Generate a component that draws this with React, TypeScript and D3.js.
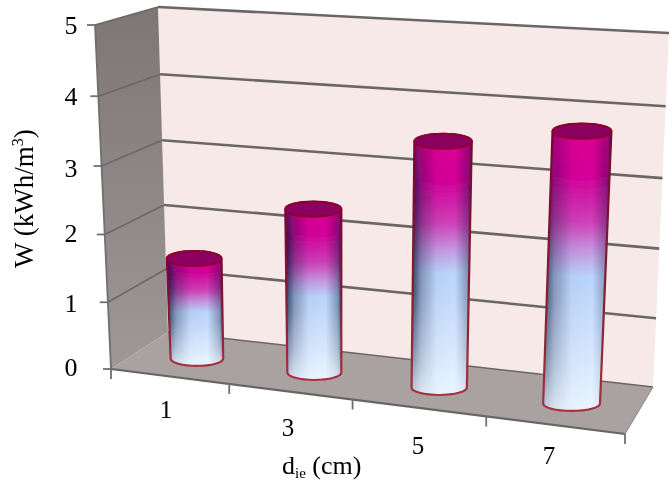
import React from 'react';
import * as d3 from 'd3';

const categories = ['1', '3', '5', '7'];
const values = [1.5, 2.4, 3.52, 3.8];
const yTicks = [0, 1, 2, 3, 4, 5];
const yFractions = [0, 0.194, 0.391, 0.59, 0.793, 1];
const xEdges = [0, 0.23, 0.47, 0.73, 1];
const xLabelPos = [[166, 418], [288, 436], [418, 454], [549, 464]];
const yLabelBase = [376, 312, 242, 177, 105, 34];

const frac = d3.scaleLinear().domain(yTicks).range(yFractions);
const uAt = d3.scaleLinear().domain(xEdges.map((_, i) => i)).range(xEdges);
const rxBase = d3.scaleLinear().domain([0, 1]).range([26, 28.8]);

const corners = {
  flb: [111, 369], flt: [95, 25],
  blb: [168, 332], blt: [158, 7],
  brb: [653, 387], brt: [669, 33],
  frb: [625, 434], frt: [645, 59],
};
const mix = (a: number[], b: number[], t: number) => [a[0] + (b[0] - a[0]) * t, a[1] + (b[1] - a[1]) * t];
function project(u: number, d: number, v: number) {
  const f = frac(v);
  const bot = mix(mix(corners.flb, corners.frb, u), mix(corners.blb, corners.brb, u), d);
  const top = mix(mix(corners.flt, corners.frt, u), mix(corners.blt, corners.brt, u), d);
  return mix(bot, top, f);
}
const poly = (pts: number[][]) => 'M' + pts.map(p => p.join(',')).join('L') + 'Z';

function Cylinder({ i, v }: { i: number; v: number }) {
  const u = uAt(i + 0.5);
  const b0 = project(u, 0.5, 0);
  const b = [b0[0], b0[1] + 1];
  const t = project(u, 0.5, v);
  const rb = rxBase(u);
  const rt = rb + 1;
  const ry = 7.5;
  const body = `M${t[0] - rt},${t[1]} L${b[0] - rb},${b[1]} A${rb},${ry} 0 0 0 ${b[0] + rb},${b[1]} L${t[0] + rt},${t[1]} A${rt},${ry} 0 0 0 ${t[0] - rt},${t[1]}Z`;
  const y0 = t[1] - ry;
  const y1 = b[1] + ry;
  return (
    <g>
      <defs>
        <linearGradient id={`fade${i}`} gradientUnits="userSpaceOnUse" x1={0} x2={0} y1={y0} y2={y1}>
          <stop offset="0" stopColor="#aaa" />
          <stop offset="0.25" stopColor="#fff" />
          <stop offset="0.6" stopColor="#eee" />
          <stop offset="0.85" stopColor="#888" />
          <stop offset="1" stopColor="#333" />
        </linearGradient>
        <mask id={`mask${i}`} maskUnits="userSpaceOnUse" x={0} y={0} width={672} height={487}>
          <rect x={0} y={y0} width={672} height={y1 - y0} fill={`url(#fade${i})`} />
        </mask>
      </defs>
      <path d={body} fill="url(#cylV)" />
      <path d={body} fill="url(#cylH)" mask={`url(#mask${i})`} />
      <path d={body} fill="none" stroke="url(#cylStroke)" strokeWidth={2.2} />
      <ellipse cx={t[0]} cy={t[1]} rx={rt} ry={ry} fill="#8c0060" stroke="#8a0035" strokeWidth={2} />
    </g>
  );
}

export default function App() {
  const gridBack = yTicks.map(v => [project(0, 1, v), project(1, 1, v)]);
  const gridLeft = yTicks.map(v => [project(0, 0, v), project(0, 1, v)]);
  return (
    <svg width={672} height={487} style={{ position: 'absolute', left: 0, top: 0 }}>
      <defs>
        <linearGradient id="wallL" x1="0" y1="0" x2="0" y2="1">
          <stop offset="0" stopColor="#7e7575" />
          <stop offset="1" stopColor="#a09898" />
        </linearGradient>
        <linearGradient id="cylV" x1="0" y1="0" x2="0" y2="1">
          <stop offset="0" stopColor="#e0008c" />
          <stop offset="0.18" stopColor="#d4009a" />
          <stop offset="0.34" stopColor="#d040b8" />
          <stop offset="0.44" stopColor="#c894e0" />
          <stop offset="0.53" stopColor="#bad4fb" />
          <stop offset="1" stopColor="#eaf5ff" />
        </linearGradient>
        <linearGradient id="cylH" x1="0" y1="0" x2="1" y2="0">
          <stop offset="0" stopColor="#0c1638" stopOpacity="0.85" />
          <stop offset="0.16" stopColor="#0c1638" stopOpacity="0.35" />
          <stop offset="0.42" stopColor="#0c1638" stopOpacity="0.03" />
          <stop offset="0.72" stopColor="#0c1638" stopOpacity="0" />
          <stop offset="0.93" stopColor="#0c1638" stopOpacity="0.35" />
          <stop offset="1" stopColor="#0c1638" stopOpacity="0.75" />
        </linearGradient>
        <linearGradient id="cylStroke" x1="0" y1="0" x2="0" y2="1">
          <stop offset="0" stopColor="#7a0030" />
          <stop offset="0.6" stopColor="#802030" />
          <stop offset="1" stopColor="#a83040" />
        </linearGradient>
        <filter id="soft" x="-5%" y="-5%" width="110%" height="110%">
          <feGaussianBlur stdDeviation="0.6" />
        </filter>
        <filter id="softText" x="-10%" y="-10%" width="120%" height="120%">
          <feGaussianBlur stdDeviation="0.3" />
        </filter>
      </defs>
      <rect width={672} height={487} fill="#fff" />
      <g filter="url(#soft)">
        <path d={poly([corners.blt, corners.brt, corners.brb, corners.blb])} fill="#f8e9e9" />
        <path d={poly([corners.flt, corners.blt, corners.blb, corners.flb])} fill="url(#wallL)" />
        <path d={poly([corners.flb, corners.blb, corners.brb, corners.frb])} fill="#aaa1a1" />
        {gridBack.map((l, i) => (
          <line key={i} x1={l[0][0]} y1={l[0][1]} x2={l[1][0]} y2={l[1][1]} stroke="#6a6666" strokeWidth={i === 0 ? 1.5 : 2.6} />
        ))}
        {gridLeft.slice(1).map((l, i) => (
          <line key={i} x1={l[0][0]} y1={l[0][1]} x2={l[1][0]} y2={l[1][1]} stroke="#6a6868" strokeWidth={1.6} />
        ))}
        <line x1={corners.flt[0]} y1={corners.flt[1]} x2={corners.flb[0]} y2={corners.flb[1]} stroke="#707070" strokeWidth={1.8} />
        <line x1={corners.flb[0]} y1={corners.flb[1]} x2={corners.frb[0]} y2={corners.frb[1]} stroke="#666" strokeWidth={2.2} />
        <line x1={corners.frb[0]} y1={corners.frb[1]} x2={corners.brb[0]} y2={corners.brb[1]} stroke="#8a8484" strokeWidth={1} />
        {yTicks.map(v => {
          const p = project(0, 0, v);
          return <line key={v} x1={p[0] - 8} y1={p[1]} x2={p[0]} y2={p[1]} stroke="#707070" strokeWidth={1.8} />;
        })}
        {xEdges.map((u, i) => {
          const p = project(u, 0, 0);
          return <line key={i} x1={p[0]} y1={p[1]} x2={p[0]} y2={p[1] + 10} stroke="#707070" strokeWidth={1.8} />;
        })}
        {values.map((v, i) => <Cylinder key={i} i={i} v={v} />)}
      </g>
      <g fontFamily="'Liberation Serif', serif" fill="#000" filter="url(#softText)">
        {yTicks.map((v, i) => (
          <text key={v} x={71} y={yLabelBase[i]} fontSize={26} textAnchor="middle">{v}</text>
        ))}
        {categories.map((c, i) => (
          <text key={c} x={xLabelPos[i][0]} y={xLabelPos[i][1]} fontSize={25} textAnchor="middle">{c}</text>
        ))}
        <text transform="translate(33,268) rotate(-90)" fontSize={27}>
          W (kWh/m<tspan fontSize={16} dy={-10}>3</tspan><tspan dy={10}>)</tspan>
        </text>
        <text x={282} y={474} fontSize={26}>
          d<tspan fontSize={15} dy={4}>ie</tspan><tspan dy={-4}> (cm)</tspan>
        </text>
      </g>
    </svg>
  );
}
